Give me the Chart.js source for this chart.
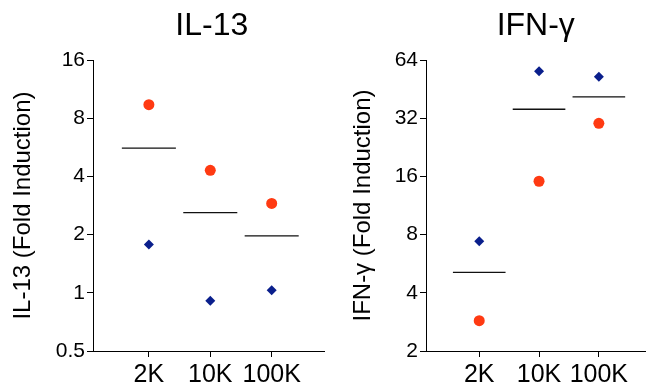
<!DOCTYPE html>
<html>
<head>
<meta charset="utf-8">
<script src="https://cdn.jsdelivr.net/npm/chart.js@4/dist/chart.umd.min.js"></script>
<style>
  body { margin: 0; background: #fff; width: 651px; height: 389px; overflow: hidden; position: relative; }
  .box { position: absolute; top: 0; height: 389px; }
</style>
</head>
<body>
<div class="box" style="left:0;width:330px"><canvas id="il13"></canvas></div>
<div class="box" style="left:340px;width:311px"><canvas id="ifng"></canvas></div>
<script>
// values
const doses = ['2K', '10K', '100K'];

const il13Red = [9.4, 4.3, 2.9];
const il13Blue = [1.78, 0.91, 1.03];
const il13Mean = [5.6, 2.6, 1.97];
const il13Ticks = [0.5, 1, 2, 4, 8, 16];

const ifngRed = [2.87, 15.1, 30.1];
const ifngBlue = [7.4, 56, 52.4];
const ifngMean = [5.1, 35.6, 41.3];
const ifngTicks = [2, 4, 8, 16, 32, 64];

Chart.defaults.font.family = '"Liberation Sans", Arial, Helvetica, sans-serif';
Chart.defaults.color = '#000';

// title centred over the plot area, not the whole canvas
const panelTitle = {
    id: 'panelTitle',
    afterDraw(chart, args, opts) {
        const { ctx, chartArea } = chart;
        ctx.save();
        ctx.font = '32px "Liberation Sans", Arial, sans-serif';
        ctx.fillStyle = '#000';
        ctx.textAlign = 'center';
        ctx.textBaseline = 'alphabetic';
        ctx.fillText(opts.text, (chartArea.left + chartArea.right) / 2 + (opts.dx || 0), 35);
        ctx.restore();
    }
};

function makeChart(id, cfg) {
    const meanLine = cfg.mean.flatMap((m, i) => [
        { x: i + 1 - 0.44, y: m },
        { x: i + 1 + 0.44, y: m },
        { x: i + 1.5, y: null }
    ]);
    return new Chart(document.getElementById(id), {
        type: 'scatter',
        data: {
            datasets: [
                {
                    label: 'mean', data: meanLine, showLine: true, spanGaps: false,
                    borderColor: '#111', borderWidth: 1.3, pointRadius: 0
                },
                {
                    label: 'red', data: cfg.red.map((v, i) => ({ x: i + 1, y: v })),
                    pointStyle: 'circle', pointRadius: 5.5, backgroundColor: '#ff3a12', borderColor: '#ff3a12', borderWidth: 0
                },
                {
                    label: 'blue', data: cfg.blue.map((v, i) => ({ x: i + 1, y: v })),
                    pointStyle: 'rectRot', pointRadius: 5, backgroundColor: '#0a1f8c', borderColor: '#0a1f8c', borderWidth: 0
                }
            ]
        },
        options: {
            responsive: true,
            maintainAspectRatio: false,
            animation: false,
            layout: { padding: { top: 60, right: cfg.padRight, left: 0, bottom: 0 } },
            plugins: {
                legend: { display: false },
                tooltip: { enabled: false },
                panelTitle: { text: cfg.title, dx: cfg.titleDx }
            },
            scales: {
                x: {
                    type: 'linear', min: cfg.xmin, max: cfg.xmax,
                    afterBuildTicks: s => { s.ticks = doses.map((d, i) => ({ value: i + 1 })); },
                    afterFit: s => { s.height = 38; },
                    ticks: { callback: v => doses[v - 1], font: { size: 25 }, padding: 3, maxRotation: 0 },
                    grid: { drawOnChartArea: false, drawTicks: true, tickLength: 6, color: '#000' },
                    border: { display: true, color: '#000', width: 1 }
                },
                y: {
                    type: 'logarithmic', min: cfg.ticks[0], max: cfg.ticks[cfg.ticks.length - 1],
                    afterBuildTicks: s => { s.ticks = cfg.ticks.map(v => ({ value: v })); },
                    afterFit: s => { s.width = cfg.yWidth; },
                    ticks: { callback: v => String(v), font: { size: 21 }, padding: 2 },
                    grid: { drawOnChartArea: false, drawTicks: true, tickLength: 6, color: '#000' },
                    border: { display: true, color: '#000', width: 1 },
                    title: { display: true, text: cfg.yTitle, font: { size: 24 }, padding: { top: 9, bottom: 0 } }
                }
            }
        },
        plugins: [panelTitle]
    });
}

makeChart('il13', {
    title: 'IL-13', titleDx: 3, yTitle: 'IL-13 (Fold Induction)',
    red: il13Red, blue: il13Blue, mean: il13Mean, ticks: il13Ticks,
    xmin: 0.09, xmax: 3.86, yWidth: 93, padRight: 5
});

makeChart('ifng', {
    title: 'IFN-γ', titleDx: 0, yTitle: 'IFN-γ (Fold Induction)',
    red: ifngRed, blue: ifngBlue, mean: ifngMean, ticks: ifngTicks,
    xmin: 0.11, xmax: 3.78, yWidth: 86, padRight: 0
});
</script>
</body>
</html>
